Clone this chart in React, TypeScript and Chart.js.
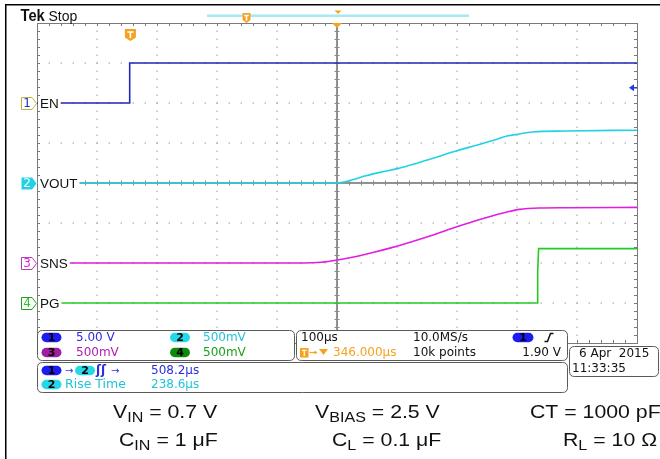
import React, { useEffect, useRef } from "react";
import { Chart, registerables } from "chart.js";

Chart.register(...registerables);

// ---- screen / timebase ----
const TIME_MIN = -154; // µs at left edge (relative to trigger)
const TIME_PER_DIV = 100; // µs/div
const H_DIVS = 10;
const V_DIVS = 8;

// ---- channel settings ----
const CH_NAMES = ["EN", "VOUT", "SNS", "PG"];
const CH_COLORS = ["#1f28b8", "#22d2e2", "#e01ee0", "#22cc22"];
const CH_SCALE = [5, 0.5, 0.5, 0.5]; // V/div
const CH_POS = [2, 0, -2, -3]; // div offset of ground
const CH_SMOOTH = [false, true, true, false];

// ---- traces (time µs, volts) ----
const EN_T = [-154, 0, 0.5, 846];
const EN_V = [0, 0, 5, 5];

const VOUT_T = [-154, 345, 367, 394, 422, 447, 478, 506, 547, 575, 603, 631, 647, 672, 728, 846];
const VOUT_V = [0, 0, 0.03, 0.09, 0.14, 0.18, 0.245, 0.31, 0.405, 0.465, 0.525, 0.59, 0.61, 0.6375, 0.65, 0.66];

const SNS_T = [-154, 290, 320, 347, 367, 394, 447, 506, 547, 594, 631, 650, 683, 728, 846];
const SNS_V = [0, 0, 0.01, 0.0375, 0.065, 0.11, 0.2125, 0.35, 0.455, 0.565, 0.64, 0.67, 0.6875, 0.6915, 0.695];

const PG_T = [-154, 680, 680.5, 682, 846];
const PG_V = [0, 0, 0.39, 0.68, 0.68];

const TRACES_T = [EN_T, VOUT_T, SNS_T, PG_T];
const TRACES_V = [EN_V, VOUT_V, SNS_V, PG_V];

// ---- readouts ----
const SCALE_LABELS = ["5.00 V", "500mV", "500mV", "500mV"];
const TIMEBASE = "100µs";
const SAMPLE_RATE = "10.0MS/s";
const RECORD = "10k points";
const TRIG_DELAY = "346.000µs";
const TRIG_LEVEL = "1.90 V";
const TRIG_LEVEL_V = 1.9;
const MEAS_DELAY = "508.2µs";
const MEAS_RISE = "238.6µs";
const DATE = "6 Apr  2015";
const TIME = "11:33:35";

const MONO = "'DejaVu Sans', sans-serif";
const SANS = "'Liberation Sans', Arial, sans-serif";
const ORANGE = "#f5a21e";
const READ_FONT = "12px " + MONO;

function pill(ctx: CanvasRenderingContext2D, x: number, yc: number, w: number, h: number, fill: string, label: string, tc: string) {
  const r = h / 2;
  ctx.beginPath();
  ctx.moveTo(x + r, yc - r);
  ctx.lineTo(x + w - r, yc - r);
  ctx.arc(x + w - r, yc, r, -Math.PI / 2, Math.PI / 2);
  ctx.lineTo(x + r, yc + r);
  ctx.arc(x + r, yc, r, Math.PI / 2, Math.PI * 1.5);
  ctx.closePath();
  ctx.fillStyle = fill;
  ctx.fill();
  ctx.fillStyle = tc;
  ctx.font = "bold 11px " + MONO;
  ctx.textAlign = "center";
  ctx.textBaseline = "middle";
  ctx.fillText(label, x + w / 2, yc + 0.5);
  ctx.textAlign = "left";
  ctx.font = READ_FONT;
}

function rrect(ctx: CanvasRenderingContext2D, x: number, y: number, w: number, h: number, r: number) {
  ctx.beginPath();
  ctx.moveTo(x + r, y);
  ctx.lineTo(x + w - r, y);
  ctx.quadraticCurveTo(x + w, y, x + w, y + r);
  ctx.lineTo(x + w, y + h - r);
  ctx.quadraticCurveTo(x + w, y + h, x + w - r, y + h);
  ctx.lineTo(x + r, y + h);
  ctx.quadraticCurveTo(x, y + h, x, y + h - r);
  ctx.lineTo(x, y + r);
  ctx.quadraticCurveTo(x, y, x + r, y);
  ctx.closePath();
}

function tMarker(ctx: CanvasRenderingContext2D, cx: number, top: number, w: number, h: number) {
  ctx.fillStyle = ORANGE;
  ctx.beginPath();
  ctx.moveTo(cx - w / 2, top);
  ctx.lineTo(cx + w / 2, top);
  ctx.lineTo(cx + w / 2, top + h * 0.7);
  ctx.lineTo(cx, top + h);
  ctx.lineTo(cx - w / 2, top + h * 0.7);
  ctx.closePath();
  ctx.fill();
  ctx.strokeStyle = "#ffffff";
  ctx.lineWidth = 1.6;
  ctx.beginPath();
  ctx.moveTo(cx - w * 0.28, top + h * 0.25);
  ctx.lineTo(cx + w * 0.28, top + h * 0.25);
  ctx.moveTo(cx, top + h * 0.25);
  ctx.lineTo(cx, top + h * 0.78);
  ctx.stroke();
}

function annot(ctx: CanvasRenderingContext2D, x: number, y: number, main: string, sub: string, rest: string) {
  ctx.save();
  ctx.translate(x, y);
  ctx.scale(1.15, 1);
  ctx.fillStyle = "#111";
  ctx.textBaseline = "alphabetic";
  ctx.textAlign = "left";
  ctx.font = "18.5px " + SANS;
  ctx.fillText(main, 0, 0);
  let w = ctx.measureText(main).width;
  if (sub) {
    ctx.font = "14px " + SANS;
    ctx.fillText(sub, w, 4);
    w += ctx.measureText(sub).width;
  }
  ctx.font = "18.5px " + SANS;
  ctx.fillText(rest, w, 0);
  ctx.restore();
}

const scopePlugin = {
  id: "scope",
  beforeDatasetsDraw(chart: any) {
    const ctx: CanvasRenderingContext2D = chart.ctx;
    const xs = chart.scales.x;
    const ys = chart.scales.y;
    const L = xs.getPixelForValue(TIME_MIN);
    const R = xs.getPixelForValue(TIME_MIN + H_DIVS * TIME_PER_DIV);
    const T = ys.getPixelForValue(V_DIVS / 2);
    const B = ys.getPixelForValue(-V_DIVS / 2);
    const dx = (R - L) / H_DIVS;
    const dy = (B - T) / V_DIVS;
    ctx.save();
    // dotted grid
    ctx.fillStyle = "#9c9c9c";
    for (let i = 1; i < H_DIVS; i++) {
      if (i === H_DIVS / 2) continue;
      const x = Math.round(xs.getPixelForValue(TIME_MIN + i * TIME_PER_DIV));
      for (let k = 1; k < V_DIVS * 5; k++) {
        ctx.fillRect(x - 0.5, Math.round(T + (k * dy) / 5) - 0.5, 1, 1.5);
      }
    }
    for (let j = -V_DIVS / 2 + 1; j < V_DIVS / 2; j++) {
      if (j === 0) continue;
      const y = Math.round(ys.getPixelForValue(j));
      for (let k = 1; k < H_DIVS * 5; k++) {
        ctx.fillRect(Math.round(L + (k * dx) / 5) - 0.5, y - 0.5, 1.5, 1);
      }
    }
    // frame
    ctx.strokeStyle = "#7a7a7a";
    ctx.lineWidth = 1;
    ctx.strokeRect(Math.round(L) + 0.5, Math.round(T) + 0.5, Math.round(R - L), Math.round(B - T));
    // frame ticks
    ctx.beginPath();
    for (let k = 1; k < H_DIVS * 5; k++) {
      const x = Math.round(L + (k * dx) / 5) + 0.5;
      ctx.moveTo(x, T);
      ctx.lineTo(x, T + 3);
      ctx.moveTo(x, B);
      ctx.lineTo(x, B - 3);
    }
    for (let k = 1; k < V_DIVS * 5; k++) {
      const y = Math.round(T + (k * dy) / 5) + 0.5;
      ctx.moveTo(L, y);
      ctx.lineTo(L + 3, y);
      ctx.moveTo(R, y);
      ctx.lineTo(R - 3, y);
    }
    ctx.stroke();
    // centre lines
    const cx = Math.round((L + R) / 2);
    const cy = Math.round((T + B) / 2);
    ctx.strokeStyle = "#6e6e6e";
    ctx.lineWidth = 1.5;
    ctx.beginPath();
    ctx.moveTo(cx, T);
    ctx.lineTo(cx, B);
    ctx.moveTo(L, cy);
    ctx.lineTo(R, cy);
    ctx.stroke();
    ctx.lineWidth = 1;
    ctx.strokeStyle = "#8a8a8a";
    ctx.beginPath();
    for (let k = 1; k < H_DIVS * 5; k++) {
      const x = Math.round(L + (k * dx) / 5) + 0.5;
      ctx.moveTo(x, cy - 2.5);
      ctx.lineTo(x, cy + 2.5);
    }
    for (let k = 1; k < V_DIVS * 5; k++) {
      const y = Math.round(T + (k * dy) / 5) + 0.5;
      ctx.moveTo(cx - 2.5, y);
      ctx.lineTo(cx + 2.5, y);
    }
    ctx.stroke();
    ctx.restore();
  },
  afterDatasetsDraw(chart: any) {
    const ctx: CanvasRenderingContext2D = chart.ctx;
    const xs = chart.scales.x;
    const ys = chart.scales.y;
    const L = xs.getPixelForValue(TIME_MIN);
    const R = xs.getPixelForValue(TIME_MIN + H_DIVS * TIME_PER_DIV);
    const T = ys.getPixelForValue(V_DIVS / 2);
    ctx.save();
    // channel markers + labels
    for (let c = 0; c < 4; c++) {
      const y = Math.round(ys.getPixelForValue(CH_POS[c])) + 0.5;
      ctx.font = "13.5px " + SANS;
      const tw = ctx.measureText(CH_NAMES[c]).width;
      ctx.fillStyle = "#ffffff";
      ctx.fillRect(L + 1, y - 7, tw + 4, 14);
      ctx.fillStyle = "#111";
      ctx.textBaseline = "middle";
      ctx.textAlign = "left";
      ctx.fillText(CH_NAMES[c], L + 3, y + 0.5);
      // marker
      const x0 = 21.5;
      const x1 = 32;
      const tip = 36.5;
      ctx.beginPath();
      ctx.moveTo(x0, y - 6);
      ctx.lineTo(x1, y - 6);
      ctx.lineTo(tip, y);
      ctx.lineTo(x1, y + 6);
      ctx.lineTo(x0, y + 6);
      ctx.closePath();
      ctx.lineWidth = 1;
      const col = c === 0 ? "#2030c8" : CH_COLORS[c];
      if (c === 1) {
        ctx.fillStyle = CH_COLORS[1];
        ctx.fill();
        ctx.fillStyle = "#ffffff";
      } else {
        ctx.fillStyle = "#ffffff";
        ctx.fill();
        ctx.strokeStyle = c === 0 ? "#b8b440" : c === 2 ? "#b040b0" : "#289a28";
        ctx.stroke();
        ctx.fillStyle = col;
      }
      ctx.font = "12px " + MONO;
      ctx.textAlign = "center";
      ctx.fillText(String(c + 1), 27, y + 0.5);
    }
    // ch1 trigger level arrow (right)
    const ty = ys.getPixelForValue(TRIG_LEVEL_V / CH_SCALE[0] + CH_POS[0]);
    ctx.fillStyle = "#2838e0";
    ctx.beginPath();
    ctx.moveTo(R - 8, ty);
    ctx.lineTo(R - 3, ty - 3.5);
    ctx.lineTo(R - 3, ty + 3.5);
    ctx.closePath();
    ctx.fill();
    ctx.fillRect(R - 4, ty - 0.75, 4, 1.5);
    // trigger marker in plot
    const tx = xs.getPixelForValue(0);
    tMarker(ctx, tx + 1, T + 6, 11, 12);
    // orange triangle at top centre
    const cx = (L + R) / 2;
    ctx.fillStyle = ORANGE;
    ctx.beginPath();
    ctx.moveTo(cx - 5, T);
    ctx.lineTo(cx + 5, T);
    ctx.lineTo(cx, T + 5);
    ctx.closePath();
    ctx.fill();
    ctx.restore();
  },
  afterDraw(chart: any) {
    const ctx: CanvasRenderingContext2D = chart.ctx;
    ctx.save();
    // outer frame lines
    ctx.fillStyle = "#000";
    ctx.fillRect(5, 4, 655, 1.5);
    ctx.fillRect(5, 4, 1.5, 455);
    // header
    ctx.textBaseline = "alphabetic";
    ctx.textAlign = "left";
    ctx.fillStyle = "#111";
    ctx.font = "bold 16px " + SANS;
    ctx.save();
    ctx.translate(20.5, 21);
    ctx.scale(0.92, 1);
    ctx.fillText("Tek", 0, 0);
    ctx.restore();
    ctx.font = "14px " + SANS;
    ctx.fillText("Stop", 48.5, 20.5);
    // record bar
    ctx.fillStyle = "#a4eaf2";
    ctx.fillRect(207, 14.5, 262, 2.5);
    tMarker(ctx, 246.5, 13, 8, 10);
    ctx.fillStyle = ORANGE;
    ctx.beginPath();
    ctx.moveTo(334.5, 10.5);
    ctx.lineTo(341.5, 10.5);
    ctx.lineTo(338, 14);
    ctx.closePath();
    ctx.fill();

    // readout boxes
    ctx.strokeStyle = "#5a5a5a";
    ctx.lineWidth = 1;
    ctx.fillStyle = "#ffffff";
    rrect(ctx, 37.5, 330.5, 257, 30, 5);
    ctx.fill();
    ctx.stroke();
    rrect(ctx, 296.5, 330.5, 271, 30, 5);
    ctx.fill();
    ctx.stroke();
    rrect(ctx, 37.5, 362.5, 530, 30, 5);
    ctx.fill();
    ctx.stroke();
    rrect(ctx, 569.5, 346.5, 89, 30, 5);
    ctx.fill();
    ctx.stroke();

    // channel scale readouts
    const row1 = 337.5;
    const row2 = 352.5;
    pill(ctx, 41.5, row1, 20, 9.5, "#1c1cf0", "1", "#000");
    pill(ctx, 41.5, row2, 20, 9.5, "#a01ca0", "3", "#000");
    pill(ctx, 170, row1, 20, 9.5, "#24d8e8", "2", "#000");
    pill(ctx, 170, row2, 20, 9.5, "#0e8a0e", "4", "#000");
    ctx.font = READ_FONT;
    ctx.textBaseline = "middle";
    ctx.textAlign = "left";
    ctx.fillStyle = "#2c2ce0";
    ctx.fillText(SCALE_LABELS[0], 76, row1 + 0.5);
    ctx.fillStyle = "#b01cb0";
    ctx.fillText(SCALE_LABELS[2], 76, row2 + 0.5);
    ctx.fillStyle = "#22c4d6";
    ctx.fillText(SCALE_LABELS[1], 203, row1 + 0.5);
    ctx.fillStyle = "#1c9e1c";
    ctx.fillText(SCALE_LABELS[3], 203, row2 + 0.5);

    // timebase readouts
    ctx.fillStyle = "#111";
    ctx.fillText(TIMEBASE, 301, row1 + 0.5);
    ctx.fillText(SAMPLE_RATE, 413, row1 + 0.5);
    ctx.fillText(RECORD, 413, row2 + 0.5);
    ctx.textAlign = "right";
    ctx.fillText(TRIG_LEVEL, 561, row2 + 0.5);
    ctx.textAlign = "left";
    pill(ctx, 512.5, row1, 21, 9.5, "#1c1cf0", "1", "#000");
    ctx.strokeStyle = "#111";
    ctx.lineWidth = 1.5;
    ctx.beginPath();
    ctx.moveTo(544.5, 341.5);
    ctx.lineTo(547.5, 341.5);
    ctx.lineTo(550.5, 333.5);
    ctx.lineTo(553.5, 333.5);
    ctx.stroke();
    // trigger delay
    ctx.fillStyle = ORANGE;
    ctx.fillRect(300, 348, 8.5, 9.5);
    ctx.strokeStyle = "#fff";
    ctx.lineWidth = 1.3;
    ctx.beginPath();
    ctx.moveTo(302, 350.3);
    ctx.lineTo(306.5, 350.3);
    ctx.moveTo(304.25, 350.3);
    ctx.lineTo(304.25, 356);
    ctx.stroke();
    ctx.strokeStyle = ORANGE;
    ctx.lineWidth = 1.2;
    ctx.beginPath();
    ctx.moveTo(309.5, 352.5);
    ctx.lineTo(316, 352.5);
    ctx.stroke();
    ctx.beginPath();
    ctx.moveTo(317.5, 352.5);
    ctx.lineTo(314.5, 350.5);
    ctx.lineTo(314.5, 354.5);
    ctx.closePath();
    ctx.fillStyle = ORANGE;
    ctx.fill();
    ctx.beginPath();
    ctx.moveTo(319, 349);
    ctx.lineTo(328, 349);
    ctx.lineTo(323.5, 355);
    ctx.closePath();
    ctx.fill();
    ctx.font = READ_FONT;
    ctx.fillText(TRIG_DELAY, 333, row2 + 0.5);

    // date
    ctx.fillStyle = "#111";
    ctx.font = READ_FONT;
    ctx.fillText(DATE, 579, 354);
    ctx.fillText(TIME, 572, 369);

    // measurements
    const m1 = 370.5;
    const m2 = 384.5;
    pill(ctx, 41.5, m1, 20, 9.5, "#1c1cf0", "1", "#000");
    ctx.fillStyle = "#2c2ce0";
    ctx.font = "10px " + MONO;
    ctx.fillText("→", 65, m1 + 0.5);
    pill(ctx, 75, m1, 20, 9.5, "#24d8e8", "2", "#000");
    ctx.font = "bold 12px " + MONO;
    ctx.fillStyle = "#2c2ce0";
    ctx.fillText("ʃʃ", 96, m1 + 0.5);
    ctx.font = "10px " + MONO;
    ctx.fillText("→", 111, m1 + 0.5);
    ctx.font = READ_FONT;
    ctx.fillText(MEAS_DELAY, 151, m1 + 0.5);
    pill(ctx, 41.5, m2, 20, 9.5, "#24d8e8", "2", "#000");
    ctx.fillStyle = "#22c4d6";
    ctx.font = "12.5px " + MONO;
    ctx.fillText("Rise Time", 65, m2 + 0.5);
    ctx.font = READ_FONT;
    ctx.fillText(MEAS_RISE, 151, m2 + 0.5);

    // bottom annotations
    annot(ctx, 113, 418, "V", "IN", " = 0.7 V");
    annot(ctx, 119, 446, "C", "IN", " = 1 μF");
    annot(ctx, 315, 418, "V", "BIAS", " = 2.5 V");
    annot(ctx, 332, 446, "C", "L", " = 0.1 μF");
    annot(ctx, 530, 418, "CT = 1000 pF", "", "");
    annot(ctx, 563, 446, "R", "L", " = 10 Ω");
    ctx.restore();
  },
};

export default function App() {
  const ref = useRef<HTMLCanvasElement | null>(null);
  useEffect(() => {
    document.body.style.margin = "0";
    document.body.style.background = "#ffffff";
    const canvas = ref.current;
    if (!canvas) return;
    const datasets = TRACES_T.map((ts, c) => ({
      label: CH_NAMES[c],
      data: ts.map((t, i) => ({ x: t, y: TRACES_V[c][i] / CH_SCALE[c] + CH_POS[c] })),
      borderColor: CH_COLORS[c],
      borderWidth: 1.6,
      pointRadius: 0,
      cubicInterpolationMode: CH_SMOOTH[c] ? ("monotone" as const) : ("default" as const),
      tension: 0,
      fill: false,
    }));
    const chart = new Chart(canvas, {
      type: "line",
      data: { datasets },
      options: {
        responsive: false,
        animation: false,
        devicePixelRatio: 1,
        layout: { padding: { left: 37, top: 23, right: 23, bottom: 116 } },
        plugins: { legend: { display: false }, tooltip: { enabled: false } },
        scales: {
          x: { type: "linear", min: TIME_MIN, max: TIME_MIN + H_DIVS * TIME_PER_DIV, display: false },
          y: { type: "linear", min: -V_DIVS / 2, max: V_DIVS / 2, display: false },
        },
      },
      plugins: [scopePlugin],
    });
    return () => chart.destroy();
  }, []);
  return (
    <div style={{ width: 660, height: 459, background: "#fff" }}>
      <canvas ref={ref} width={660} height={459} style={{ display: "block", width: 660, height: 459 }} />
    </div>
  );
}
